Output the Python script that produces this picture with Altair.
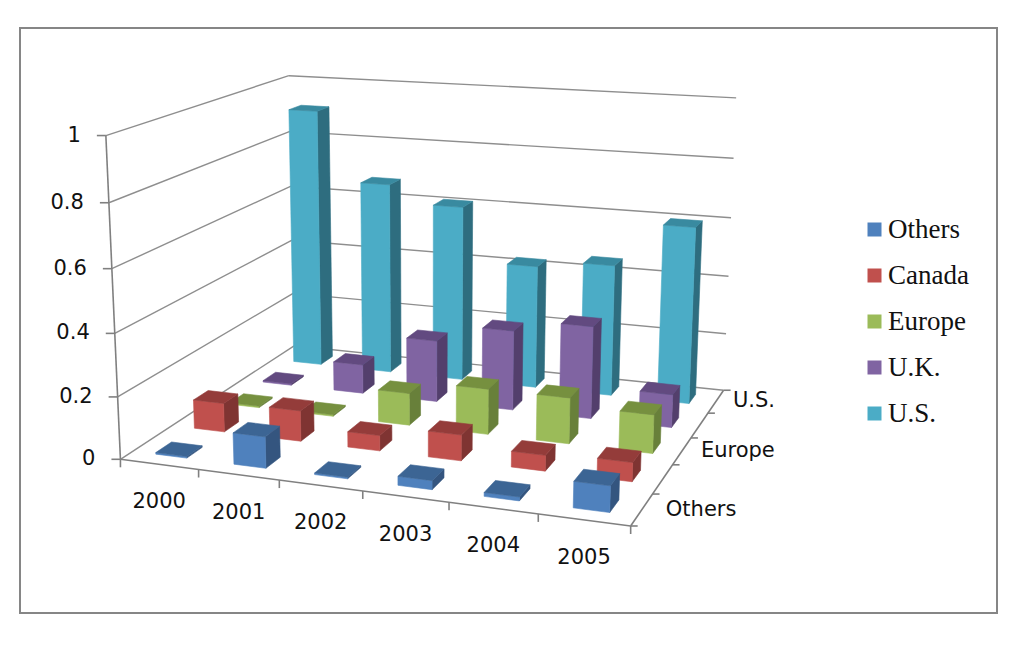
import numpy as np
import pandas as pd
import altair as alt

years = ["2000", "2001", "2002", "2003", "2004", "2005"]
series = ["Others", "Canada", "Europe", "U.K.", "U.S."]
others = [0.005, 0.10, 0.005, 0.028, 0.012, 0.08]
canada = [0.095, 0.10, 0.05, 0.083, 0.05, 0.06]
europe = [0.005, 0.005, 0.107, 0.15, 0.15, 0.125]
uk = [0.005, 0.10, 0.21, 0.27, 0.31, 0.11]
us = [0.91, 0.67, 0.61, 0.425, 0.45, 0.60]
z_ticks = [0, 0.2, 0.4, 0.6, 0.8, 1]
z_labels = ["0", "0.2", "0.4", "0.6", "0.8", "1"]
depth_labels = ["Others", "Europe", "U.S."]
depth_label_pos = [0, 2, 4]
depth_label_dx = [24, 19, 17]

front_colors = ["#4F81BD", "#C0504D", "#9BBB59", "#8064A2", "#4BACC6"]
side_colors = ["#34557F", "#7F3432", "#68803A", "#533F6C", "#2E6D7F"]
top_colors = ["#3C6594", "#943C3A", "#76903F", "#624A80", "#398AA0"]
GRID = "#8E8E8E"
AXIS = "#808080"

# camera: where known corners of the 3D box appear in the picture
box_pts = [(0, 0, 0), (1/6, 0, 0), (2/6, 0, 0), (3/6, 0, 0), (4/6, 0, 0), (5/6, 0, 0), (1, 0, 0),
           (1, .2, 0), (1, .4, 0), (1, .6, 0), (1, .8, 0), (1, 1, 0),
           (0, 0, .2), (0, 0, .4), (0, 0, .6), (0, 0, .8), (0, 0, 1),
           (0, 1, 0), (0, 1, .2), (0, 1, .4), (0, 1, .6), (0, 1, .8), (0, 1, 1),
           (1, 1, .2), (1, 1, .4), (1, 1, .6), (1, 1, .8), (1, 1, 1)]
img_pts = [(122, 459), (199, 472), (279, 482), (362, 493), (447, 503), (537, 513), (629, 525),
           (653, 494), (675, 463), (692, 437), (710, 412), (722, 390),
           (118, 396), (115, 333), (112, 267), (109, 203), (106, 135),
           (294, 345), (293, 293), (292, 240), (290, 187), (290, 132), (289, 75),
           (726, 335), (728, 277), (731, 218), (733, 159), (737, 98)]

A = []
for (X, Y, Z), (u, v) in zip(box_pts, img_pts):
    u, v = u / 1000, v / 1000
    A.append([X, Y, Z, 1, 0, 0, 0, 0, -u * X, -u * Y, -u * Z, -u])
    A.append([0, 0, 0, 0, X, Y, Z, 1, -v * X, -v * Y, -v * Z, -v])
P = np.linalg.svd(np.array(A))[2][-1].reshape(3, 4)


def proj(X, Y, Z):
    w = P @ np.array([X, Y, Z, 1.0])
    return float(w[0] / w[2] * 1000), float(w[1] / w[2] * 1000)


# ---- bars as projected faces, painted back to front
rows = []
pid = 0


def face(corners, color):
    global pid
    for k, c in enumerate(list(corners) + [corners[0]]):
        px, py = proj(*c)
        rows.append({"id": pid, "k": k, "px": px, "py": py, "fill": color})
    pid += 1


table = [others, canada, europe, uk, us]
for j in range(len(series) - 1, -1, -1):
    for i in range(len(years)):
        v = table[j][i]
        x0, x1 = (i + .3) / 6, (i + .7) / 6
        y0, y1 = (j + .3) / 5, (j + .7) / 5
        face([(x1, y0, 0), (x1, y1, 0), (x1, y1, v), (x1, y0, v)], side_colors[j])
        face([(x0, y0, 0), (x1, y0, 0), (x1, y0, v), (x0, y0, v)], front_colors[j])
        face([(x0, y0, v), (x1, y0, v), (x1, y1, v), (x0, y1, v)], top_colors[j])
bars = pd.DataFrame(rows)

# ---- box lines
line_rows = []
lid = 0


def seg(a, b, off=(0, 0), kind="grid"):
    global lid
    for k, c in enumerate((a, b)):
        px, py = proj(*c)
        if k == 1:
            px += off[0]
            py += off[1]
        line_rows.append({"id": lid, "k": k, "px": px, "py": py, "kind": kind})
    lid += 1


for z in z_ticks:
    seg((0, 0, z), (0, 1, z))
    seg((0, 1, z), (1, 1, z))
    seg((0, 0, z), (0, 0, z), (-9, 0), "axis")
seg((0, 0, 0), (0, 0, 1), kind="axis")
seg((0, 0, 0), (1, 0, 0), kind="axis")
seg((1, 0, 0), (1, 1, 0), kind="axis")
for i in range(len(years) + 1):
    seg((i / 6, 0, 0), (i / 6, 0, 0), (0, 8), "axis")
for j in range(len(series) + 1):
    seg((1, j / 5, 0), (1, j / 5, 0), (7, 0), "axis")
lines = pd.DataFrame(line_rows)

# ---- axis labels
xl = []
for i, t in enumerate(years):
    px, py = proj((i + .5) / 6, 0, 0)
    xl.append({"px": px, "py": py + 38, "t": t})
zl = []
for z, t in zip(z_ticks, z_labels):
    px, py = proj(0, 0, z)
    zl.append({"px": px - 25, "py": py, "t": t})
dl = []
for j, t, dx in zip(depth_label_pos, depth_labels, depth_label_dx):
    px, py = proj(1, (j + .5) / 5, 0)
    dl.append({"px": px + dx, "py": py, "t": t})

X = alt.X("px:Q", scale=alt.Scale(domain=[20, 997], nice=False, zero=False), axis=None)
Y = alt.Y("py:Q", scale=alt.Scale(domain=[613, 28], nice=False, zero=False), axis=None)

grid_layer = alt.Chart(lines[lines.kind == "grid"]).mark_line(strokeWidth=1.4, color=GRID).encode(
    x=X, y=Y, detail="id:N", order="k:Q")
axis_layer = alt.Chart(lines[lines.kind == "axis"]).mark_line(strokeWidth=1.6, color=AXIS).encode(
    x=X, y=Y, detail="id:N", order="k:Q")
bar_layer = alt.Chart(bars).mark_line(strokeWidth=0.6).encode(
    x=X, y=Y, detail="id:N", order="k:Q",
    fill=alt.Fill("fill:N", scale=None),
    stroke=alt.Stroke("fill:N", scale=None))


def labels(rows_, align):
    return alt.Chart(pd.DataFrame(rows_)).mark_text(
        font="DejaVu Sans", fontSize=21, color="#111111", align=align, baseline="middle"
    ).encode(x=X, y=Y, text="t:N")


legend_df = pd.DataFrame({"series": series, "px": [900] * 5, "py": [300] * 5})
legend_layer = alt.Chart(legend_df).mark_square(size=0).encode(
    x=X, y=Y,
    color=alt.Color("series:N", scale=alt.Scale(domain=series, range=front_colors),
                    legend=alt.Legend(orient="none", legendX=841, legendY=188, title=None,
                                      symbolType="square", symbolSize=196, symbolStrokeWidth=0,
                                      symbolOpacity=1, labelFont="Liberation Serif",
                                      labelFontSize=27, labelColor="#111111", labelOffset=0,
                                      rowPadding=18, labelLimit=200)))

chart = alt.layer(grid_layer, axis_layer, bar_layer,
                  labels(xl, "center"), labels(zl, "right"), labels(dl, "left"),
                  legend_layer).properties(
    width=977, height=585,
    autosize=alt.AutoSizeParams(type="none"),
    padding={"left": 12, "top": 20, "right": 19, "bottom": 20},
    background="white",
).configure_view(stroke="#868686", strokeWidth=2)

chart.save("out.html", embed_options={"renderer": "svg", "actions": False})
